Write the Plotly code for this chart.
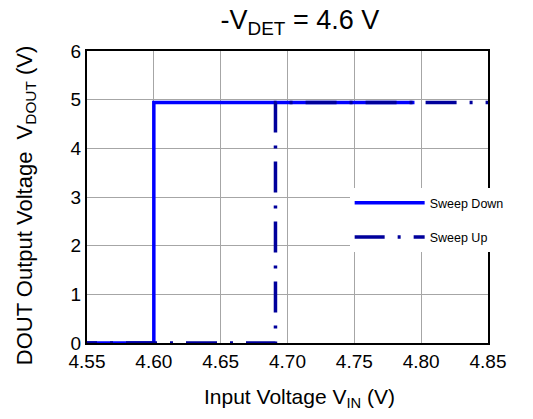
import plotly.graph_objects as go

# Data
down_x = [4.795, 4.600, 4.600, 4.55]
down_y = [4.94, 4.94, 0.0, 0.0]
up_x = [4.55, 4.691, 4.691, 4.85]
up_y = [0.0, 0.0, 4.94, 4.94]
x_ticks = [4.55, 4.60, 4.65, 4.70, 4.75, 4.80, 4.85]
y_ticks = [0, 1, 2, 3, 4, 5, 6]

FONT = "Liberation Sans, Arial, sans-serif"
BLUE = "#0000FF"
NAVY = "#00009C"

fig = go.Figure()
fig.add_trace(go.Scatter(
    x=down_x, y=down_y, mode="lines", name="Sweep Down",
    line=dict(color=BLUE, width=3.5), legendgroup="a"))
# data line (dash phase matched to reference), legend handled by a legend-only entry
fig.add_trace(go.Scatter(
    x=up_x, y=up_y, mode="lines", name="Sweep Up", showlegend=False,
    line=dict(color=NAVY, width=3.5, dash="10px,13px,3px,13px,21px,0px"),
    legendgroup="b"))
fig.add_trace(go.Scatter(
    x=[None], y=[None], mode="lines", name="Sweep Up",
    line=dict(color=NAVY, width=3.5, dash="30px,13px,3px,13px"),
    legendgroup="b"))

fig.update_layout(
    width=525, height=411,
    margin=dict(l=79, r=45, t=43, b=76),
    paper_bgcolor="white", plot_bgcolor="white",
    font=dict(family=FONT, size=19, color="black"),
    title=dict(text="-V<sub>DET</sub> = 4.6 V", x=0.556, xanchor="center",
               y=0.972, yanchor="middle", font=dict(size=27)),
    showlegend=True,
    legend=dict(x=0.655, y=0.53, xanchor="left", yanchor="top",
                bgcolor="white", borderwidth=0, font=dict(size=12.5),
                itemwidth=70, traceorder="grouped", tracegroupgap=15),
    annotations=[
        dict(text="DOUT Output Voltage  V<sub>DOUT</sub> (V)", xref="paper", yref="paper",
             x=-0.152, y=0.472, xanchor="center", yanchor="middle", textangle=-90,
             showarrow=False, font=dict(size=22)),
        dict(text="Input Voltage V<sub>IN</sub> (V)", xref="paper", yref="paper",
             x=0.529, y=-0.188, xanchor="center", yanchor="middle",
             showarrow=False, font=dict(size=21)),
    ],
)
fig.update_xaxes(
    range=[4.55, 4.85], tickvals=x_ticks, tickformat=".2f",
    showgrid=True, gridcolor="#A6A6A6", gridwidth=1,
    showline=True, linecolor="black", linewidth=2, mirror=True,
    ticks="", zeroline=False, tickfont=dict(size=19))
fig.update_yaxes(
    range=[0, 6], tickvals=y_ticks,
    showgrid=True, gridcolor="#A6A6A6", gridwidth=1,
    showline=True, linecolor="black", linewidth=2, mirror=True,
    ticks="", zeroline=False, tickfont=dict(size=19))

fig.write_html("out.html")
